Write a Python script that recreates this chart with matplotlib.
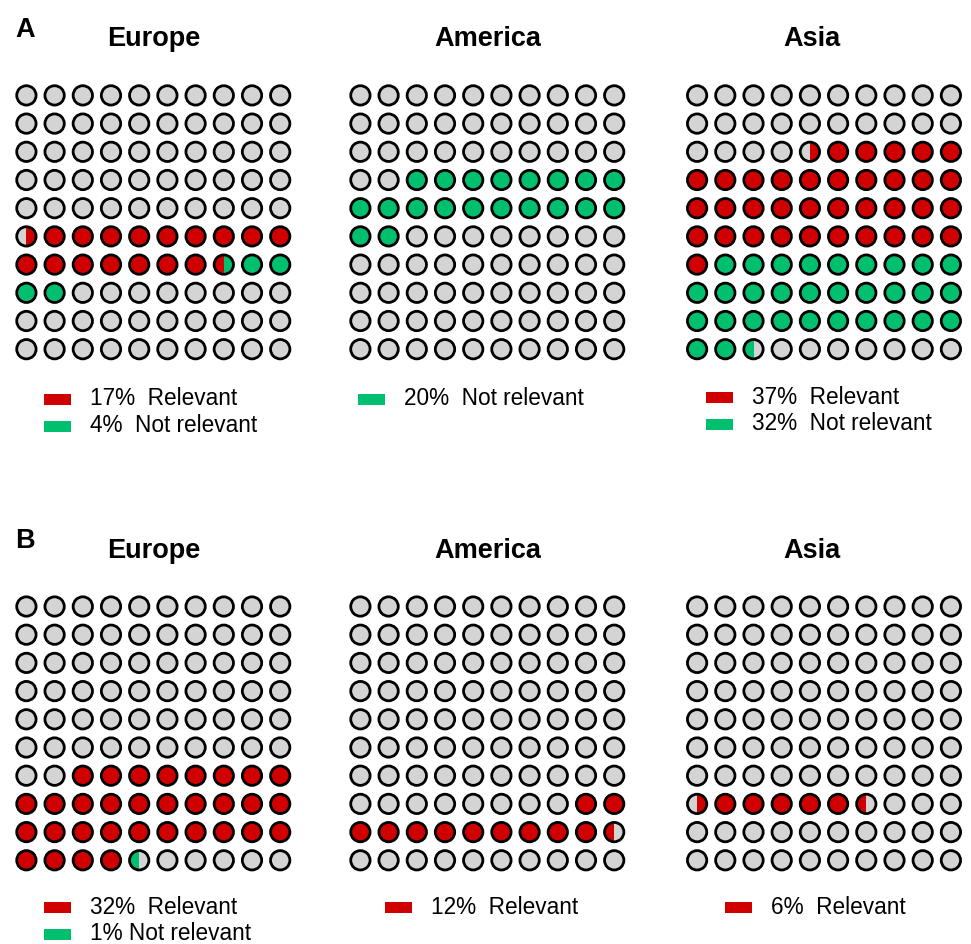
import matplotlib
matplotlib.use("Agg")
import matplotlib.pyplot as plt
from matplotlib.patches import Circle, Rectangle

plt.rcParams['font.family'] = ['Liberation Sans', 'DejaVu Sans']

# ---------------- data ----------------
regions = ["Europe", "America", "Asia"]
# start position (in cell units, row-major over 10x10 grid) of the coloured run
start_A = [50.5, 32.0, 24.5]
relevant_A = [17.0, 0.0, 36.5]
not_relevant_A = [4.5, 20.0, 31.5]
start_B = [62.0, 78.0, 70.5]
relevant_B = [32.0, 11.5, 6.0]
not_relevant_B = [0.5, 0.0, 0.0]

legend_A = [[("17%  Relevant", "red"), ("4%  Not relevant", "green")],
            [("20%  Not relevant", "green")],
            [("37%  Relevant", "red"), ("32%  Not relevant", "green")]]
legend_B = [[("32%  Relevant", "red"), ("1% Not relevant", "green")],
            [("12%  Relevant", "red")],
            [("6%  Relevant", "red")]]
panel_labels = ["A", "B"]

# ---------------- style ----------------
RED = "#D10000"
GREEN = "#00BF6F"
GRAY = "#D4D4D4"
COLORS = {"red": RED, "green": GREEN}

W, H = 971, 944
fig = plt.figure(figsize=(W / 100, H / 100), dpi=100)


def fx(px):
    return px / W


def fy(py):
    return 1 - py / H


SP = 28.2  # px per cell
centers_x = [153.3, 487.3, 824.0]
centers_y = [222.3, 733.4]
title_x = [154, 488, 812]
title_base = [46, 558]
label_base = [37, 548]
leg_patch_x = [[44, 358, 706], [44, 385, 725]]
leg_y = [[399, 399, 397], [907, 907, 907]]
LINE_GAP = 27
R = 0.343


def draw_panel(ax, start, segs):
    ax.set_xlim(-0.5, 9.5)
    ax.set_ylim(9.5, -0.5)
    ax.set_aspect('equal')
    ax.axis('off')
    ranges = []
    s = start
    for val, col in segs:
        ranges.append((s, s + val, col))
        s += val
    for i in range(100):
        row, col = divmod(i, 10)
        cx, cy = col, row
        base = Circle((cx, cy), R, facecolor=GRAY, edgecolor='none', zorder=1)
        ax.add_patch(base)
        for a, b, c in ranges:
            lo = max(a, i)
            hi = min(b, i + 1)
            if hi > lo:
                x0 = cx - R + (lo - i) * 2 * R
                w = (hi - lo) * 2 * R
                rect = Rectangle((x0, cy - R), w, 2 * R, facecolor=c,
                                 edgecolor='none', zorder=2)
                ax.add_patch(rect)
                rect.set_clip_path(base)
        ax.add_patch(Circle((cx, cy), R, facecolor='none', edgecolor='black',
                            linewidth=2.0, zorder=3))


starts = [start_A, start_B]
rels = [relevant_A, relevant_B]
nrels = [not_relevant_A, not_relevant_B]
legends = [legend_A, legend_B]

for r in range(2):
    fig.text(fx(15), fy(label_base[r]), panel_labels[r], fontsize=19.5,
             fontweight='bold', va='baseline', ha='left')
    for p in range(3):
        size = 10 * SP
        left = centers_x[p] - size / 2
        top = centers_y[r] - size / 2
        ax = fig.add_axes([fx(left), fy(top + size), size / W, size / H])
        draw_panel(ax, starts[r][p],
                   [(rels[r][p], RED), (nrels[r][p], GREEN)])
        fig.text(fx(title_x[p]), fy(title_base[r]), regions[p], fontsize=19.5,
                 fontweight='bold', ha='center', va='baseline')
        for k, (txt, c) in enumerate(legends[r][p]):
            yc = leg_y[r][p] + k * LINE_GAP
            px0 = leg_patch_x[r][p]
            fig.patches.append(Rectangle((fx(px0), fy(yc + 5.5)), 27 / W, 11 / H,
                                         transform=fig.transFigure,
                                         facecolor=COLORS[c], edgecolor='none'))
            fig.text(fx(px0 + 46), fy(yc), txt, fontsize=16.3, ha='left',
                     va='center')

fig.savefig("out.png", dpi=100, facecolor='white')
